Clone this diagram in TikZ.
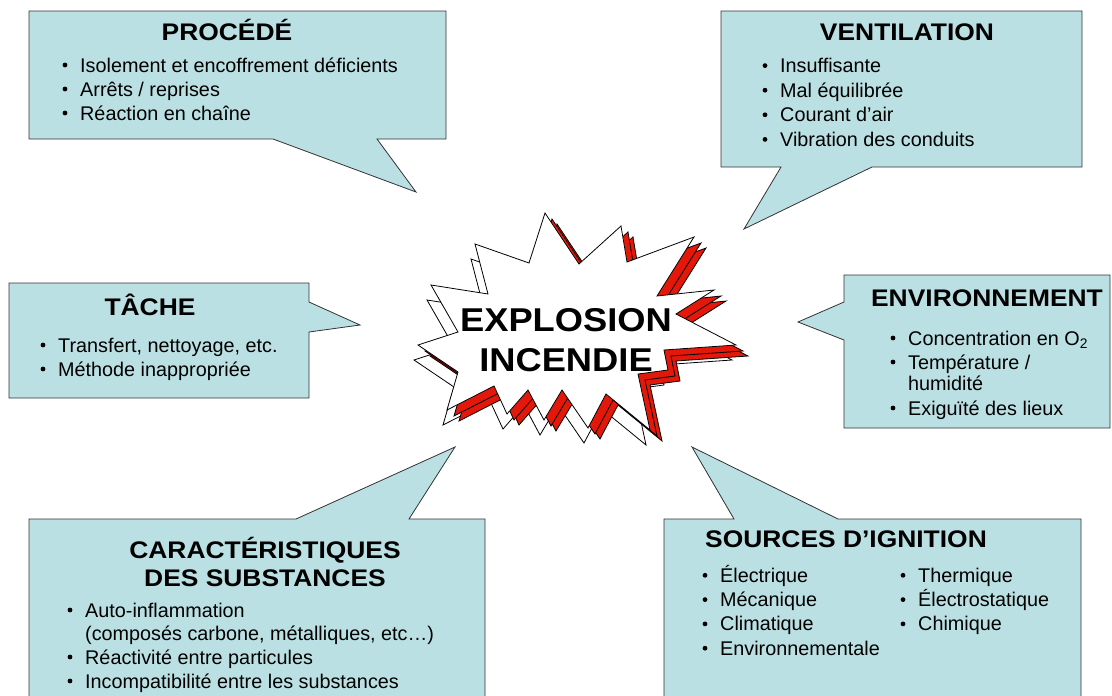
\documentclass[tikz,border=0pt]{standalone}
\usepackage{fontspec}
\setmainfont{Liberation Sans}
\newfontfamily\titrefont[FakeStretch=1.1]{Liberation Sans}
\usepackage{xcolor}
\definecolor{cyanbulle}{RGB}{187,224,227}
\definecolor{rougeexpl}{RGB}{228,24,10}
\tikzset{
  bulle/.style={draw=black!80, fill=cyanbulle, line width=0.8pt, line join=miter},
  titre/.style={font=\titrefont\bfseries\fontsize{24}{28}\selectfont, inner sep=0pt},
  item/.style={font=\fontsize{19.8}{24}\selectfont, inner sep=0pt, anchor=base west},
  etoile/.style={draw=black, line width=0.8pt, line join=miter},
}
\newcommand{\puce}[1]{\fill ([xshift=-15pt,yshift=7pt]#1.base west) circle (2.4pt);}

\begin{document}
\begin{tikzpicture}[x=1pt,y=-1pt]
        \clip (0,0) rectangle (1112,696);
        % bulles
        \draw[bulle] (29,11) -- (446,11) -- (446,139) -- (377,139) -- (416,192) -- (273,139) -- (29,139) -- cycle; % procede
        \draw[bulle] (721,11) -- (1082,11) -- (1082,167) -- (872,167) -- (744,229) -- (781,167) -- (721,167) -- cycle; % ventilation
        \draw[bulle] (9,283) -- (309,283) -- (309,302) -- (360,325) -- (309,332) -- (309,398) -- (9,398) -- cycle; % tache
        \draw[bulle] (844,275) -- (1110,275) -- (1110,428) -- (844,428) -- (844,340) -- (798,322) -- (844,302) -- cycle; % environnement
        \draw[bulle] (29,519) -- (296,519) -- (455,447) -- (409,519) -- (485,519) -- (485,710) -- (29,710) -- cycle; % substances
        \draw[bulle] (664,519) -- (734,519) -- (692,447) -- (838,519) -- (1081,519) -- (1081,710) -- (664,710) -- cycle; % ignition
        % explosion
        \def\contour{(545,213) -- (579,264) -- (621,226) -- (627,262) -- (694,237) -- (657,296) -- (714,290) -- (676,314) -- (736,345) -- (664,350) -- (668,370) -- (638,374) -- (650,430) -- (606,394) -- (588,428) -- (562,390) -- (544,420) -- (528,390) -- (507,414) -- (494,386) -- (447,410) -- (458,372) -- (418,345) -- (458,332) -- (431,285) -- (488,294) -- (475,244) -- (529,263) -- cycle}
        \draw[etoile, fill=white, shift={(-4,15)}] \contour;
        \draw[etoile, fill=rougeexpl, shift={(12,11)}] \contour;
        \draw[etoile, fill=rougeexpl, shift={(7,6)}] \contour;
        \draw[etoile, fill=white] \contour;
        \node[font=\titrefont\bfseries\fontsize{33}{40}\selectfont, align=center, inner sep=0pt] (expl) at (566,340) {EXPLOSION\\INCENDIE};
        % titres
        \node[titre, anchor=base] (proc) at (227,40) {PROCÉDÉ};
        \node[titre, anchor=base] (vent) at (907,40) {VENTILATION};
        \node[titre, anchor=base] (tache) at (150,315) {TÂCHE};
        \node[titre, anchor=base] (env) at (987,306) {ENVIRONNEMENT};
        \node[titre, align=center] (carac) at (265,562) {CARACTÉRISTIQUES\\DES SUBSTANCES};
        \node[titre, anchor=base west] (ign) at (705,547) {SOURCES D’IGNITION};
        % listes
        \foreach \t [count=\i] in {Isolement et encoffrement déficients, Arrêts / reprises, Réaction en chaîne}
        {\node[item] (proc\i) at (80,48+24*\i) {\t}; \puce{proc\i}}
        \foreach \t [count=\i] in {Insuffisante, Mal équilibrée, Courant d’air, Vibration des conduits}
        {\node[item] (vent\i) at (780,48+24.6*\i) {\t}; \puce{vent\i}}
        \foreach \t [count=\i] in {{Transfert, nettoyage, etc.}, Méthode inappropriée}
        {\node[item] (tache\i) at (58,328+24*\i) {\t}; \puce{tache\i}}
        \foreach \y/\t [count=\i] in {345/Concentration en O\textsubscript{2}, 369/{Température /}, 415/Exiguïté des lieux}
        {\node[item] (env\i) at (908,\y) {\t}; \puce{env\i}}
        \node[item] (env2b) at (908,390) {humidité};
        \foreach \y/\t [count=\i] in {617/Auto-inflammation, 664/Réactivité entre particules, 688/Incompatibilité entre les substances}
        {\node[item] (carac\i) at (85,\y) {\t}; \puce{carac\i}}
        \node[item] (carac1b) at (85,640) {(composés carbone, métalliques, etc…)};
        \foreach \t [count=\i] in {Électrique, Mécanique, Climatique, Environnementale}
        {\node[item] (ign\i) at (720,558+24.3*\i) {\t}; \puce{ign\i}}
        \foreach \t [count=\i] in {Thermique, Électrostatique, Chimique}
        {\node[item] (ignb\i) at (918,558+24.3*\i) {\t}; \puce{ignb\i}}
\end{tikzpicture}
\end{document}
